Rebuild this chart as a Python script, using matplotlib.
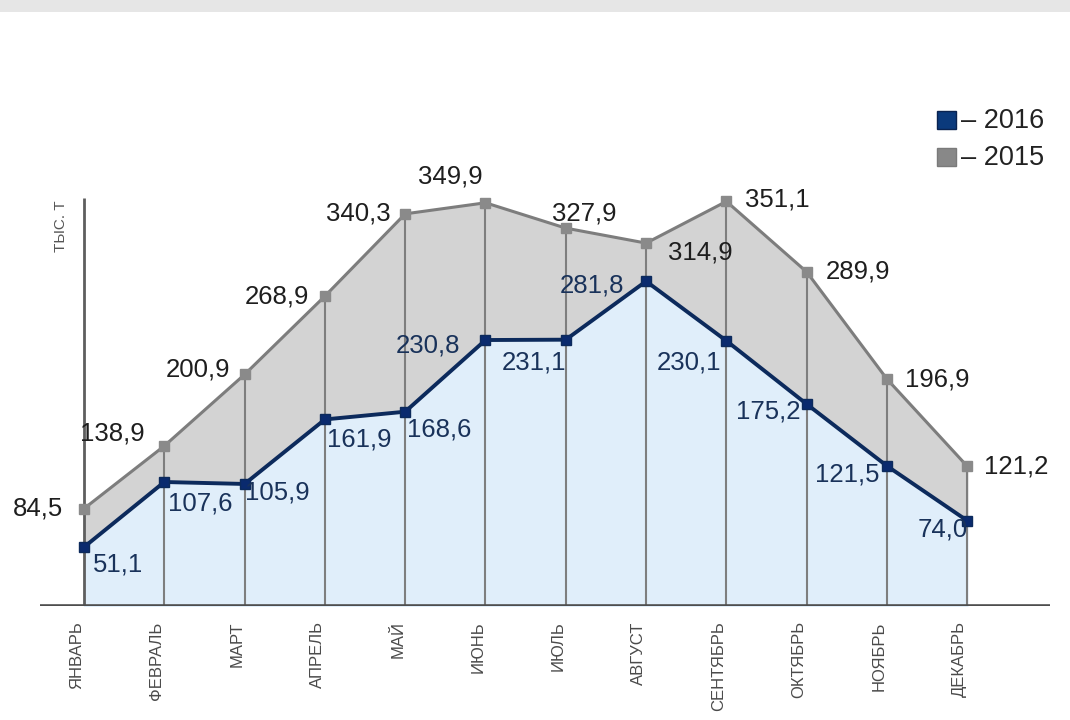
import matplotlib.pyplot as plt
from matplotlib.patches import Rectangle

plt.rcParams['font.family'] = ['Liberation Sans', 'DejaVu Sans']

months = ['ЯНВАРЬ', 'ФЕВРАЛЬ', 'МАРТ', 'АПРЕЛЬ', 'МАЙ', 'ИЮНЬ',
          'ИЮЛЬ', 'АВГУСТ', 'СЕНТЯБРЬ', 'ОКТЯБРЬ', 'НОЯБРЬ', 'ДЕКАБРЬ']
vals_2015 = [84.5, 138.9, 200.9, 268.9, 340.3, 349.9,
             327.9, 314.9, 351.1, 289.9, 196.9, 121.2]
vals_2016 = [51.1, 107.6, 105.9, 161.9, 168.6, 230.8,
             231.1, 281.8, 230.1, 175.2, 121.5, 74.0]

# label offsets in pixels (dx, dy) relative to the point
off_2015 = [(-46, 0), (-52, 12), (-47, 5), (-48, 0), (-47, 0), (-35, 26),
            (18, 15), (54, -9), (51, 2), (51, 0), (50, 0), (49, 0)]
off_2016 = [(34, -17), (36, -21), (33, -9), (34, -20), (34, -18), (-57, -5),
            (-32, -23), (-54, -4), (-37, -22), (-38, -7), (-40, -9), (-25, -9)]

c16 = '#0c2a5c'
c15 = '#7d7d7d'

fig = plt.figure(figsize=(10.7, 7.2), dpi=100)
W, H = 1070, 720
ax = fig.add_axes([40 / W, 114 / H, 1010 / W, 484 / H])
x = list(range(len(months)))

ax.fill_between(x, 0, vals_2016, color='#e0eefa', zorder=1)
ax.fill_between(x, vals_2016, vals_2015, color='#d3d3d3', zorder=1)
ax.vlines(x[1:], 0, vals_2015[1:], color='#7e7e7e', lw=1.5, zorder=2)
ax.vlines(0, 0, 354, color='#5e5e5e', lw=2.0, zorder=2)
ax.axhline(0, color='#4e4e4e', lw=2.6, zorder=5)

ax.plot(x, vals_2015, color=c15, lw=2.2, marker='s', ms=6.5,
        mfc='#8a8a8a', mec='#8a8a8a', zorder=3)
ax.plot(x, vals_2016, color=c16, lw=2.8, marker='s', ms=6.5,
        mfc='#0a2a6e', mec=c16, zorder=4)

for i in x:
    ax.annotate(f'{vals_2015[i]:.1f}'.replace('.', ','), (i, vals_2015[i]),
                xytext=off_2015[i], textcoords='offset pixels',
                ha='center', va='center', fontsize=18.5, color='#1e1e1e', zorder=6)
    ax.annotate(f'{vals_2016[i]:.1f}'.replace('.', ','), (i, vals_2016[i]),
                xytext=off_2016[i], textcoords='offset pixels',
                ha='center', va='center', fontsize=18.5, color='#19325a', zorder=6)

ax.set_xlim(-0.548, 12.03)
ax.set_ylim(0, 420)
ax.set_xticks(x)
ax.set_xticklabels(months, rotation=90, fontsize=12, color='#4a4a4a', va='top', ha='right')
ax.tick_params(axis='x', length=0, pad=11)
ax.set_yticks([])
for s in ax.spines.values():
    s.set_visible(False)
ax.patch.set_alpha(0)

fig.text(61 / W, 1 - 226 / H, 'ТЫС. Т', rotation=90, fontsize=11, color='#555555',
         ha='center', va='center')

# legend
fig.add_artist(Rectangle((937 / W, 1 - 129 / H), 19 / W, 18 / H,
                         transform=fig.transFigure, facecolor='#0b3a7c', edgecolor='#0a2350', lw=1))
fig.add_artist(Rectangle((937 / W, 1 - 166 / H), 19 / W, 18 / H,
                         transform=fig.transFigure, facecolor='#888888', edgecolor='#7a7a7a', lw=1))
fig.text(961 / W, 1 - 121 / H, '– 2016', fontsize=19.5, color='#222222', va='center')
fig.text(961 / W, 1 - 158 / H, '– 2015', fontsize=19.5, color='#222222', va='center')

# top grey band
fig.add_artist(Rectangle((0, 1 - 12 / H), 1, 12 / H, transform=fig.transFigure,
                         facecolor='#e6e6e6', edgecolor='none'))

fig.savefig('out.png', dpi=100)
